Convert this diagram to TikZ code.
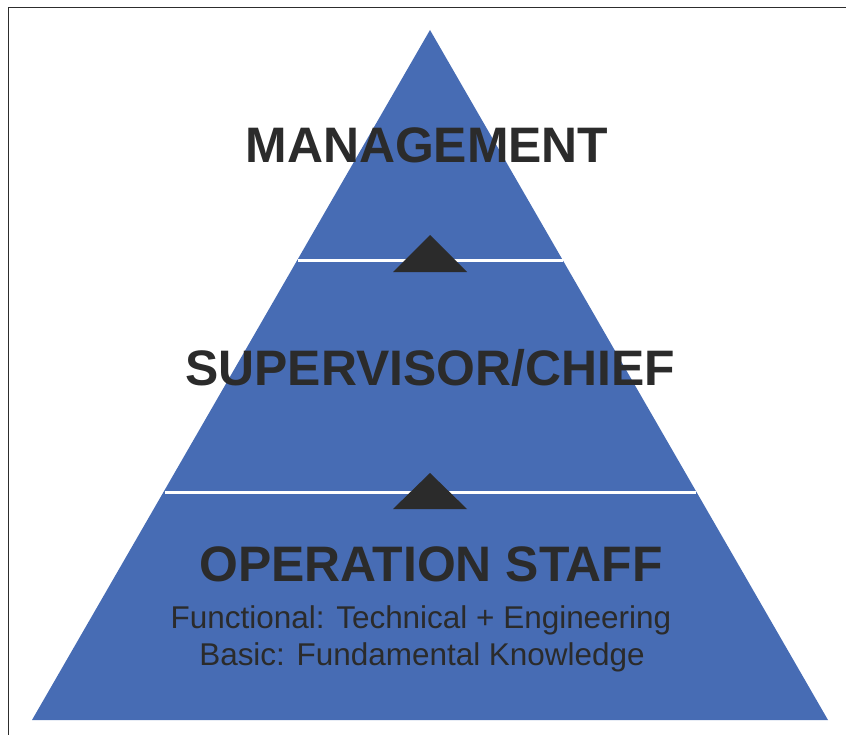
\documentclass[tikz,border=0pt]{standalone}
\usepackage{fontspec}
\setmainfont{Liberation Sans}
\definecolor{pyrblue}{RGB}{71,108,180}
\definecolor{inkdark}{RGB}{43,43,43}
\tikzset{every picture/.style={line width=0.75pt}}
\tikzset{
  levelhead/.style={anchor=base,inner sep=0.75pt,text=inkdark,font=\fontsize{37.4}{44}\selectfont\bfseries},
  levelsub/.style={anchor=base,inner sep=0.75pt,text=inkdark,font=\fontsize{23.6}{27.75}\selectfont,align=center}
}
\begin{document}
\begin{tikzpicture}[x=0.75pt,y=0.75pt,yscale=-1,xscale=1]
\useasboundingbox (0,0) rectangle (846,735);

%Frame
\draw [color={rgb, 255:red, 45; green, 45; blue, 45 }, line width=1.3pt] (8.5,735) -- (8.5,7.5) -- (846,7.5) ;
%Shape: Triangle [id:pyramid]
\draw [draw opacity=0][fill=pyrblue] (430,30) -- (828,720) -- (32,720) -- cycle ;
%Straight Lines [id:upperband]
\draw [color=white, line width=2.6pt] (297.5,260.5) -- (562.5,260.5) ;
%Straight Lines [id:lowerband]
\draw [color=white, line width=2.6pt] (164.5,492.5) -- (695.5,492.5) ;
%Shape: Triangle [id:upperstep]
\draw [draw opacity=0][fill=inkdark] (430,235) -- (467,272) -- (393,272) -- cycle ;
%Shape: Triangle [id:lowerstep]
\draw [draw opacity=0][fill=inkdark] (430,473) -- (467,509) -- (393,509) -- cycle ;

% Text Node
\node [levelhead] (mgmt) at (427,162) {MANAGEMENT};
% Text Node
\node [levelhead] (superv) at (430,385) {SUPERVISOR/CHIEF};
% Text Node
\node [levelhead] (opstaff) at (431,581) {OPERATION STAFF};
% Text Node
\node [levelsub] (functional) at (421,628) {Functional: Technical + Engineering};
% Text Node
\node [levelsub] (basic) at (422,665) {Basic: Fundamental Knowledge};

\end{tikzpicture}
\end{document}
